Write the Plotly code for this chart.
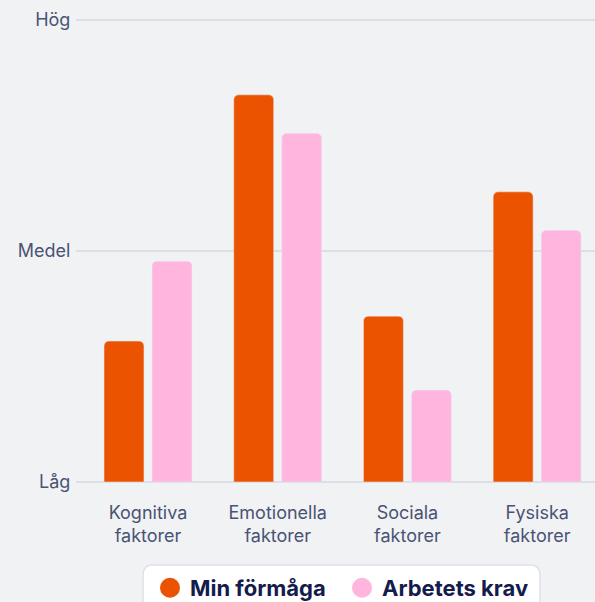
import plotly.graph_objects as go

categories = ["Kognitiva<br>faktorer", "Emotionella<br>faktorer", "Sociala<br>faktorer", "Fysiska<br>faktorer"]
min_formaga = [30.5, 83.8, 35.9, 62.8]
arbetets_krav = [47.8, 75.5, 19.9, 54.5]
level_values = [0, 50, 100]
level_labels = ["Låg", "Medel", "Hög"]
series_names = ["Min förmåga", "Arbetets krav"]
series_colors = ["#EB5300", "#FFB5DD"]

W, H = 595, 602
L, R, T, B = 76, 0, 11, 118
pw, ph = W - L - R, H - T - B
# y scale: value 0 at pixel 482, value 100 at pixel 20
ppu = (482 - 20) / 100.0
y_lo = -(H - B - 482) / ppu
y_hi = (482 - T) / ppu

def px2paper(x, y):
    return (x - L) / pw, (H - B - y) / ph

FONT = "Inter"
fig = go.Figure()
bw = 0.308
fig.add_trace(go.Bar(x=categories, y=min_formaga, name=series_names[0], marker_color=series_colors[0],
                     width=bw, offset=-0.339, marker_cornerradius=5, showlegend=False))
fig.add_trace(go.Bar(x=categories, y=arbetets_krav, name=series_names[1], marker_color=series_colors[1],
                     width=bw, offset=0.031, marker_cornerradius=5, showlegend=False))
for n, c in zip(series_names, series_colors):
    fig.add_trace(go.Scatter(x=[None], y=[None], mode="markers", name=n,
                             marker=dict(color=c, size=20, symbol="circle",
                                         line=dict(color=c, width=4))))

# legend box
x0, y0 = px2paper(143, 565)
x1, y1 = px2paper(540, 620)
r = 10
rx, ry = r / pw, r / ph
path = (f"M {x0+rx},{y0} L {x1-rx},{y0} Q {x1},{y0} {x1},{y0-ry} L {x1},{y1} L {x0},{y1} "
        f"L {x0},{y0-ry} Q {x0},{y0} {x0+rx},{y0} Z")
fig.add_shape(type="path", path=path, xref="paper", yref="paper",
              fillcolor="white", line=dict(color="#DFE1E7", width=1.5), layer="below")

lx, ly = px2paper(150, 567)
fig.update_layout(
    width=W, height=H,
    margin=dict(l=L, r=R, t=T, b=B, pad=0, autoexpand=False),
    paper_bgcolor="#F1F2F4", plot_bgcolor="#F1F2F4",
    barmode="overlay",
    showlegend=True,
    legend=dict(orientation="h", x=lx, y=ly, xanchor="left", yanchor="top",
                bgcolor="rgba(0,0,0,0)", itemsizing="trace", entrywidth=147,
                font=dict(family=FONT, size=22, color="#141B4D", weight="bold"),
                itemclick=False, itemdoubleclick=False),
    xaxis=dict(range=[-0.555, 3.446], showgrid=False, zeroline=False, showline=False,
               ticks="outside", ticklen=12, tickcolor="rgba(0,0,0,0)",
               tickfont=dict(family=FONT, size=18, color="#4A5275")),
    yaxis=dict(range=[y_lo, y_hi], tickvals=level_values, ticktext=level_labels,
               showgrid=True, gridcolor="#DCDFE6", gridwidth=1.5, zeroline=False, showline=False,
               ticks="outside", ticklen=1, tickcolor="rgba(0,0,0,0)",
               tickfont=dict(family=FONT, size=18, color="#4A5275")),
)
fig.write_html("out.html", config={"displayModeBar": False},
               post_script="document.body.style.margin='0';document.body.style.overflow='hidden';")
